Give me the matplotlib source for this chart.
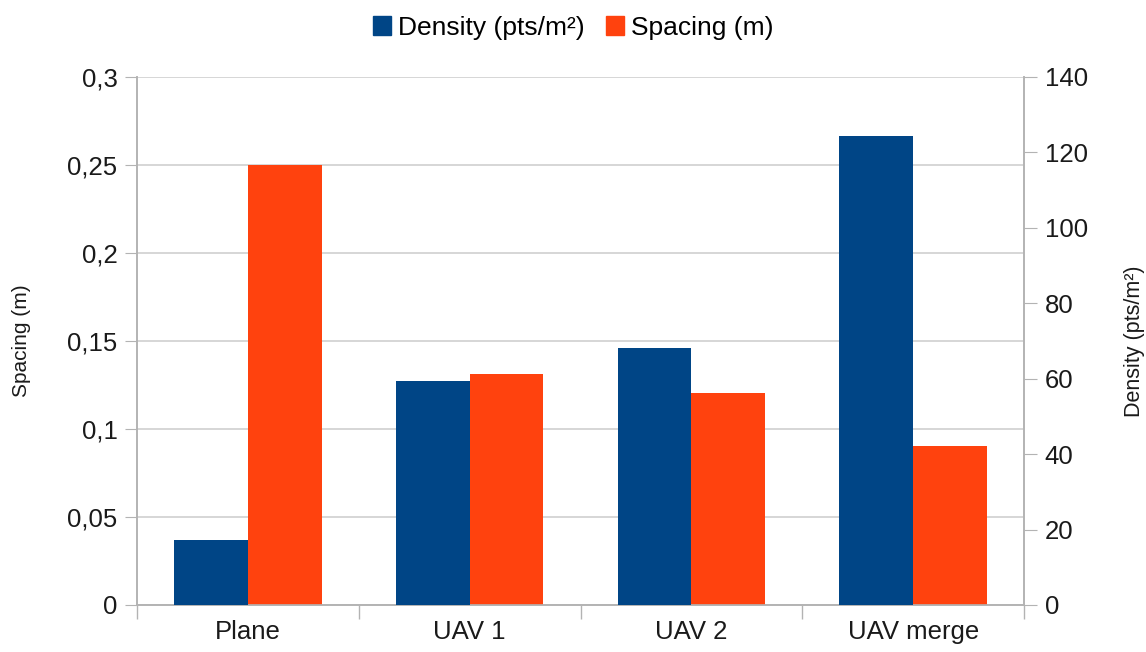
import matplotlib
matplotlib.use("Agg")
import matplotlib.pyplot as plt
from matplotlib.ticker import FuncFormatter, FixedLocator
from matplotlib.patches import Patch
import numpy as np

plt.rcParams['font.family'] = ['Liberation Sans', 'DejaVu Sans']

categories = ["Plane", "UAV 1", "UAV 2", "UAV merge"]
density = [17.2, 59.4, 68.1, 124.4]      # pts/m², right axis
spacing = [0.25, 0.131, 0.1205, 0.0905]  # m, left axis

blue = "#004586"
orange = "#ff420e"
grid_c = "#d0d0d0"
axis_c = "#b3b3b3"
txt_c = "#1a1a1a"

fig = plt.figure(figsize=(11.46, 6.52), dpi=100)
ax = fig.add_axes([137/1146, 1-605/652, (1024-137)/1146, (605-77)/652])
ax2 = ax.twinx()

x = np.arange(len(categories))
w = 0.333
ax2.bar(x - w/2, density, width=w, color=blue, zorder=3)
ax.bar(x + w/2, spacing, width=w, color=orange, zorder=3)

ax.set_xlim(-0.5, len(categories) - 0.5)
ax.set_ylim(0, 0.3)
ax2.set_ylim(0, 140)
ax.set_yticks(np.arange(0, 0.301, 0.05))
ax2.set_yticks(np.arange(0, 141, 20))

def comma(v, pos):
    s = f"{v:.2f}".rstrip("0").rstrip(".")
    return s.replace(".", ",")
ax.yaxis.set_major_formatter(FuncFormatter(comma))

ax.xaxis.set_major_locator(FixedLocator(np.arange(-0.5, len(categories), 1.0)))
ax.xaxis.set_minor_locator(FixedLocator(x))
ax.set_xticklabels([], minor=False)
ax.set_xticklabels(categories, minor=True)
ax.tick_params(axis='x', which='major', length=10, color=axis_c, width=1)
ax.tick_params(axis='x', which='minor', length=0, labelsize=18.5, pad=11, labelcolor=txt_c)
ax.tick_params(axis='y', length=9, color=axis_c, labelsize=18.5, pad=5, labelcolor=txt_c)
ax2.tick_params(axis='y', length=9, color=axis_c, labelsize=18.5, pad=6, labelcolor=txt_c)

ax.grid(axis='y', color=grid_c, linewidth=1.2, zorder=0)
ax.set_axisbelow(True)

for a in (ax, ax2):
    for s in ['left', 'right', 'bottom']:
        a.spines[s].set_color(axis_c)
        a.spines[s].set_linewidth(1.2)
    a.spines['top'].set_visible(False)

ax.set_ylabel("Spacing (m)", fontsize=15, color=txt_c)
ax.yaxis.set_label_coords(-(137-31)/887, 0.5)
ax2.set_ylabel("Density (pts/m²)", fontsize=15.5, color=txt_c, rotation=90)
ax2.yaxis.set_label_coords((1124-137)/887, 0.5)

handles = [Patch(facecolor=blue, edgecolor=blue), Patch(facecolor=orange, edgecolor=orange)]
fig.legend(handles, ["Density (pts/m²)", "Spacing (m)"], loc='upper center',
           bbox_to_anchor=(0.5, 1.012), ncol=2, frameon=False, fontsize=19,
           handlelength=0.7, handleheight=0.7, handletextpad=0.25, columnspacing=0.8)

fig.savefig("out.png", dpi=100)
